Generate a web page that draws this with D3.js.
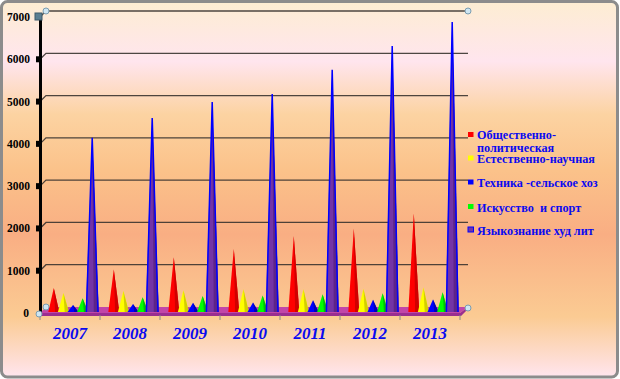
<!DOCTYPE html>
<html><head><meta charset="utf-8">
<script src="https://cdn.jsdelivr.net/npm/d3@7/dist/d3.min.js"></script>
<style>html,body{margin:0;padding:0;background:#fff;}svg{display:block;} text.pre{white-space:pre;}</style>
</head><body>
<svg id="c" width="620" height="379"></svg>
<script>
const years = ["2007","2008","2009","2010","2011","2012","2013"];
const seriesNames = ["Общественно-политическая","Естественно-научная","Техника -сельское хоз","Искусство\u00A0 и спорт","Языкознание худ лит"];
const obshPolit = [520, 960, 1250, 1440, 1750, 1920, 2290];
const estNauch = [400, 450, 470, 490, 490, 505, 530];
const tehnika = [120, 140, 170, 180, 230, 240, 250];
const iskusstvo = [280, 300, 330, 340, 370, 395, 420];
const yazykozn = [4070, 4540, 4920, 5110, 5680, 6240, 6810];
const yTicks = [0, 1000, 2000, 3000, 4000, 5000, 6000, 7000];

const seriesValues = [obshPolit, estNauch, tehnika, iskusstvo, yazykozn];
const colors = [
  {light:"#FF0000", dark:"#C80000"},
  {light:"#FFFF00", dark:"#CBC400"},
  {light:"#0000FF", dark:"#0000AC"},
  {light:"#00FF00", dark:"#00B800"},
  {light:"#7334A6", dark:"#582284", stroke:"#0000FF"}
];

const svg = d3.select("#c");
const defs = svg.append("defs");
const bg = defs.append("linearGradient").attr("id","bg").attr("x1",0).attr("y1",0).attr("x2",0).attr("y2",1);
[[0,"#FDEDD2"],[0.16,"#FFE5EE"],[0.3,"#FCD3A2"],[0.45,"#FBC28A"],[0.62,"#F9AE83"],[0.84,"#FBCB93"],[1,"#FFE5EE"]]
  .forEach(([o,c])=>bg.append("stop").attr("offset",o).attr("stop-color",c));

svg.append("rect").attr("x",1.5).attr("y",1.5).attr("width",616).attr("height",375.5).attr("rx",6)
  .attr("fill","url(#bg)").attr("stroke","#8C8C8C").attr("stroke-width",3);

// Scales
const front = {x:40, y:313};
const depth = {dx:6, dy:-6};
const x0 = d3.scaleBand().domain(years).range([40,460]).paddingInner(0).paddingOuter(0);
const x1 = d3.scaleBand().domain(seriesNames).range([9,57]).padding(0);
const yFront = d3.scaleLinear().domain([0,7000]).range([313,17]);
const yMid = d3.scaleLinear().domain([0,7000]).range([310,14]);
const yBack = d3.scaleLinear().domain([0,7000]).range([307,11]);

// grid on back wall + side wall
const grid = svg.append("g");
yTicks.forEach(t=>{
  if(t===0) return;
  grid.append("path")
    .attr("d",`M${front.x},${yFront(t)}L${front.x+depth.dx},${yBack(t)}L${460+depth.dx+2},${yBack(t)}`)
    .attr("fill","none").attr("stroke","#3A3430").attr("stroke-width",1.3).attr("opacity",0.9);
});

// floor
svg.append("path")
  .attr("d",`M40,313L460,313L468,307L46,307Z`)
  .attr("fill","#C246A8");
svg.append("path")
  .attr("d",`M40,313L460,313L468,307L468,309L461,316L40,316Z`)
  .attr("fill","#9A2E90");

// x ticks
const xt = [40].concat(years.map(y=>x0(y)+x0.bandwidth()));
svg.append("g").selectAll("line").data(xt).join("line")
  .attr("x1",d=>d).attr("x2",d=>d).attr("y1",315).attr("y2",320)
  .attr("stroke","#8A8A8A").attr("stroke-width",1);

// cones
const cones = svg.append("g");
years.forEach((yr,i)=>{
  seriesNames.forEach((s,k)=>{
    const v = seriesValues[k][i];
    const cx = x0(yr) + x1(s) + x1.bandwidth()/2;
    const w = k===4 ? 13 : 11;
    const by = 312, ty = yMid(v);
    const c = colors[k];
    const g = cones.append("g");
    g.append("path").attr("d",`M${cx-w/2},${by}L${cx},${ty}L${cx+w/2},${by}Z`)
      .attr("fill",c.light);
    g.append("path").attr("d",`M${cx+w*0.12},${by}L${cx},${ty}L${cx+w/2},${by}Z`)
      .attr("fill",c.dark).attr("opacity",0.85);
    if(c.stroke){
      g.append("path").attr("d",`M${cx-w/2+0.7},${by}L${cx},${ty}L${cx+w/2-0.7},${by}`)
        .attr("fill","none").attr("stroke",c.stroke).attr("stroke-width",1.5);
    }
  });
});

// y axis
svg.append("line").attr("x1",40.5).attr("x2",40.5).attr("y1",yFront(7000)).attr("y2",313)
  .attr("stroke","#000").attr("stroke-width",3);
const ya = svg.append("g");
yTicks.forEach(t=>{
  if(t>0 && t<7000) ya.append("rect").attr("x",36).attr("y",yFront(t)-3).attr("width",6).attr("height",6).attr("fill","#000");
  ya.append("text").attr("x",t===0?29:30).attr("y",yFront(t)+4)
    .attr("text-anchor","end").attr("font-family","'Liberation Serif','Times New Roman',serif")
    .attr("font-weight","bold").attr("font-size",11.5).attr("fill","#000").text(t);
});
ya.append("rect").attr("x",35).attr("y",13).attr("width",7).attr("height",7).attr("fill","#5B7F92").attr("stroke","#3d5a6a");

// handles
[[46,11],[468,11],[46,307],[468,308],[39,314]].forEach(([hx,hy])=>{
  svg.append("circle").attr("cx",hx).attr("cy",hy).attr("r",3)
    .attr("fill","#CFE6F2").attr("stroke","#7A9CB0").attr("stroke-width",1);
});

// x labels
svg.append("g").selectAll("text").data(years).join("text")
  .attr("x",d=>x0(d)+x0.bandwidth()/2).attr("y",339)
  .attr("text-anchor","middle").attr("font-family","'Liberation Serif','Times New Roman',serif")
  .attr("font-weight","bold").attr("font-style","italic").attr("font-size",17).attr("fill","#0A0AF0")
  .text(d=>d);

// legend
const legY = [134.5, 158, 182, 206.5, 229.5];
const leg = svg.append("g").attr("font-family","'Liberation Serif','Times New Roman',serif")
  .attr("font-weight","bold").attr("font-size",12.2).attr("fill","#0A0AF0");
seriesNames.forEach((s,k)=>{
  leg.append("rect").attr("x",468).attr("y",legY[k]-2.5).attr("width",5.5).attr("height",5)
    .attr("fill",colors[k].light).attr("stroke",k===4?"#0000FF":"none").attr("stroke-width",1);
  if(k===0){
    leg.append("text").attr("x",477).attr("y",legY[k]+4).text("Общественно-");
    leg.append("text").attr("x",477).attr("y",legY[k]+17).text("политическая");
  } else {
    leg.append("text").attr("class","pre").attr("x",477).attr("y",legY[k]+5).text(s);
  }
});
</script>
</body></html>
